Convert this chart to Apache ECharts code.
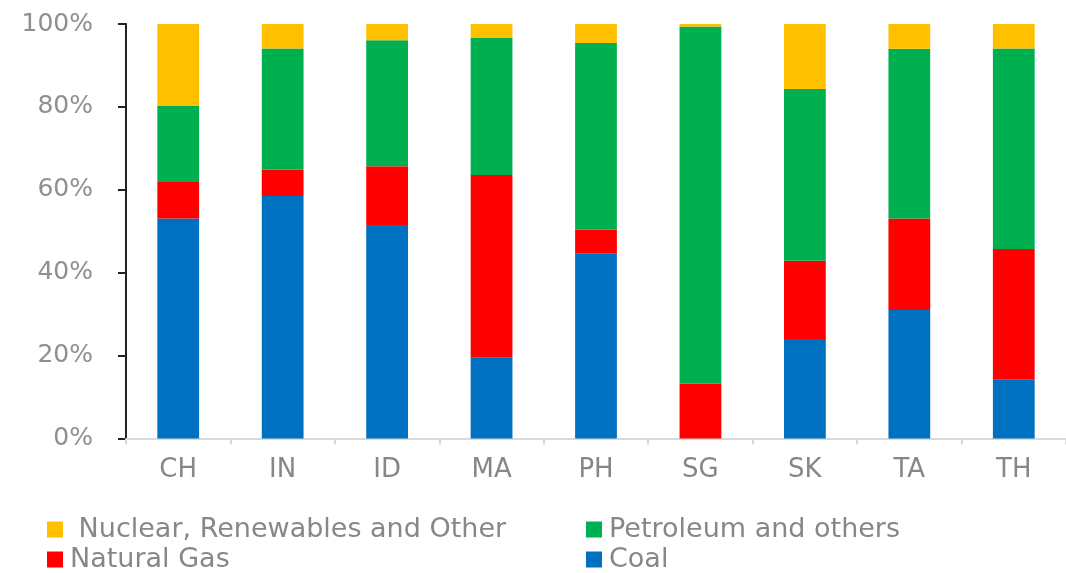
<!DOCTYPE html>
<html>
<head>
<meta charset="utf-8">
<title>Primary energy mix by economy</title>
<script src="https://cdn.jsdelivr.net/npm/echarts@6/dist/echarts.min.js"></script>
<style>
  html, body { margin: 0; padding: 0; background: #ffffff; }
  #chart { width: 1066px; height: 573px; }
</style>
</head>
<body>
<div id="chart"></div>
<script>
// Economies on the x axis
const categories = ['CH', 'IN', 'ID', 'MA', 'PH', 'SG', 'SK', 'TA', 'TH'];

// Share of each fuel in the energy mix, percent (stacked bottom to top)
const coal      = [53.1, 58.5, 51.5, 19.5, 44.7,  0.0, 24.0, 31.0, 14.2];
const naturalGas = [ 8.8,  6.4, 14.2, 44.1,  5.7, 13.2, 18.9, 22.1, 31.5];
const petroleum = [18.3, 29.2, 30.4, 33.0, 45.0, 86.2, 41.4, 40.9, 48.4];
const nuclearRenewOther = [19.8, 5.9, 3.9, 3.4, 4.6, 0.6, 15.7, 6.0, 5.9];

// Y axis tick values
const yTicks = [0, 20, 40, 60, 80, 100];

const seriesNames = {
  nuclear: 'Nuclear, Renewables and Other',
  petroleum: 'Petroleum and others',
  gas: 'Natural Gas',
  coal: 'Coal'
};

const FONT = 'DejaVu Sans';
const TEXT_GREY = '#878787';

const chart = echarts.init(document.getElementById('chart'), null, { renderer: 'canvas' });

function barSeries(name, data, color) {
  return {
    name: name,
    type: 'bar',
    stack: 'mix',
    barWidth: '40%',
    data: data,
    itemStyle: { color: color },
    emphasis: { disabled: true }
  };
}

// One legend entry per block so the 2 x 2 key keeps fixed columns
function legendItem(name, left, top, label) {
  return {
    left: left,
    top: top,
    padding: 0,
    itemWidth: 16,
    itemHeight: 16,
    icon: 'rect',
    selectedMode: false,
    textStyle: {
      fontFamily: FONT,
      fontSize: 27,
      color: TEXT_GREY,
      lineHeight: 27,
      padding: [0, 0, 0, 2]
    },
    formatter: function () { return label || name; },
    data: [name]
  };
}

chart.setOption({
  animation: false,
  backgroundColor: '#ffffff',
  grid: { left: 126, top: 24, width: 957, height: 414.5, containLabel: false },
  legend: [
    legendItem(seriesNames.nuclear, 47, 516, ' ' + seriesNames.nuclear),
    legendItem(seriesNames.gas, 47, 546),
    legendItem(seriesNames.petroleum, 586, 516),
    legendItem(seriesNames.coal, 586, 546)
  ],
  xAxis: {
    type: 'category',
    data: categories,
    axisLine: { lineStyle: { color: '#d9d9d9', width: 2 } },
    axisTick: { show: true, length: 6, lineStyle: { color: '#d9d9d9', width: 2 } },
    axisLabel: {
      fontFamily: FONT,
      fontSize: 26,
      color: TEXT_GREY,
      margin: 19
    },
    splitLine: { show: false }
  },
  yAxis: {
    type: 'value',
    min: yTicks[0],
    max: yTicks[yTicks.length - 1],
    interval: yTicks[1] - yTicks[0],
    axisLine: { show: true, lineStyle: { color: '#222222', width: 2 } },
    axisTick: { show: true, length: 8, lineStyle: { color: '#222222', width: 2 } },
    axisLabel: {
      fontFamily: FONT,
      fontSize: 25,
      color: '#8f8f8f',
      margin: 33,
      formatter: '{value}%'
    },
    splitLine: { show: false }
  },
  series: [
    barSeries(seriesNames.coal, coal, '#0070C0'),
    barSeries(seriesNames.gas, naturalGas, '#FF0000'),
    barSeries(seriesNames.petroleum, petroleum, '#00B050'),
    barSeries(seriesNames.nuclear, nuclearRenewOther, '#FFC000')
  ]
});
</script>
</body>
</html>
